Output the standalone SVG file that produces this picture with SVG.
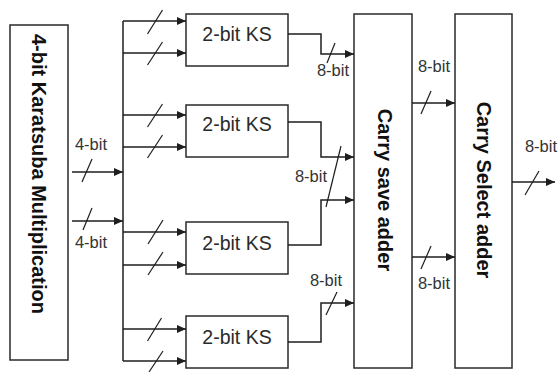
<svg xmlns="http://www.w3.org/2000/svg" width="558" height="372" viewBox="0 0 558 372">
<style>
.box{fill:#fff;stroke:#2a2a2a;stroke-width:1.5}
.w{fill:none;stroke:#1e1e1e;stroke-width:1.5}
.s{stroke:#1e1e1e;stroke-width:1.2}
.ks{font-family:"Liberation Sans",Arial,sans-serif;font-size:19.5px;fill:#2a2a2a;text-anchor:middle}
.lb{font-family:"Liberation Sans",Arial,sans-serif;font-size:16.5px;fill:#333;text-anchor:middle}
.big{font-family:"Liberation Sans",Arial,sans-serif;font-size:20px;font-weight:bold;fill:#111;text-anchor:middle}
</style>
<defs>
<marker id="ah" markerUnits="userSpaceOnUse" markerWidth="9" markerHeight="9" refX="9" refY="4.5" orient="auto">
<path d="M0,0.5 L9,4.5 L0,8.5 z" fill="#1e1e1e"/>
</marker>
</defs>
<rect width="558" height="372" fill="#fff"/>

<g id="karatsuba">
<rect class="box" x="10" y="25" width="58" height="335"/>
<text class="big" transform="translate(39,174) rotate(90)" x="0" y="7">4-bit Karatsuba Multiplication</text>
</g>

<g id="ks1">
<rect class="box" x="186" y="14" width="102" height="52"/>
<text class="ks" x="237" y="41">2-bit KS</text>
</g>
<g id="ks2">
<rect class="box" x="186" y="105" width="102" height="52"/>
<text class="ks" x="237" y="131">2-bit KS</text>
</g>
<g id="ks3">
<rect class="box" x="186" y="222" width="102" height="52"/>
<text class="ks" x="237" y="250">2-bit KS</text>
</g>
<g id="ks4">
<rect class="box" x="186" y="316" width="102" height="52"/>
<text class="ks" x="237" y="344">2-bit KS</text>
</g>

<g id="csa">
<rect class="box" x="354" y="14" width="58" height="354"/>
<text class="big" transform="translate(385,190) rotate(90)" x="0" y="7">Carry save adder</text>
</g>
<g id="csela">
<rect class="box" x="455" y="14" width="57" height="354"/>
<text class="big" transform="translate(484,190) rotate(90)" x="0" y="7">Carry Select adder</text>
</g>

<g id="connectors">
<path class="w" d="M123,21 V361"/>
<path class="w" d="M123,21 H186" marker-end="url(#ah)"/>
<path class="w" d="M123,53 H186" marker-end="url(#ah)"/>
<path class="w" d="M123,115 H186" marker-end="url(#ah)"/>
<path class="w" d="M123,147 H186" marker-end="url(#ah)"/>
<path class="w" d="M123,232 H186" marker-end="url(#ah)"/>
<path class="w" d="M123,265 H186" marker-end="url(#ah)"/>
<path class="w" d="M123,329 H186" marker-end="url(#ah)"/>
<path class="w" d="M123,361 H186" marker-end="url(#ah)"/>
<path class="w" d="M72,172 H123" marker-end="url(#ah)"/>
<path class="w" d="M72,221 H123" marker-end="url(#ah)"/>
<path class="w" d="M288,34 H321 V54 H354" marker-end="url(#ah)"/>
<path class="w" d="M288,122 H321 V157 H354" marker-end="url(#ah)"/>
<path class="w" d="M288,245 H321 V200 H354" marker-end="url(#ah)"/>
<path class="w" d="M288,342 H321 V303 H354" marker-end="url(#ah)"/>
<path class="w" d="M412,103 H455" marker-end="url(#ah)"/>
<path class="w" d="M412,257 H455" marker-end="url(#ah)"/>
<path class="w" d="M512,182 H555" marker-end="url(#ah)"/>

<g id="slashes">
<path class="s" d="M162.5,10 L147.5,34"/>
<path class="s" d="M162.5,42 L147.5,65"/>
<path class="s" d="M162.5,104 L147.5,127"/>
<path class="s" d="M162.5,135 L147.5,158"/>
<path class="s" d="M163,220 L148,244"/>
<path class="s" d="M163,252 L148,275"/>
<path class="s" d="M161.5,318 L147.5,341"/>
<path class="s" d="M163,351 L149,372"/>
<path class="s" d="M92,159 L82,182"/>
<path class="s" d="M92,208 L83,230"/>
<path class="s" d="M335,43 L327,63"/>
<path class="s" d="M341,146 L326,207"/>
<path class="s" d="M337,292 L326,315"/>
<path class="s" d="M431,91 L421,114"/>
<path class="s" d="M431,246 L421,269"/>
<path class="s" d="M539,171 L525,195"/>
</g>
</g>

<g id="labels">
<text class="lb" x="91" y="150">4-bit</text>
<text class="lb" x="91" y="248">4-bit</text>
<text class="lb" x="333" y="76">8-bit</text>
<text class="lb" x="311" y="182">8-bit</text>
<text class="lb" x="326" y="286">8-bit</text>
<text class="lb" x="434" y="72">8-bit</text>
<text class="lb" x="434" y="289">8-bit</text>
<text class="lb" x="557" y="152" style="text-anchor:end">8-bit</text>
</g>
</svg>
